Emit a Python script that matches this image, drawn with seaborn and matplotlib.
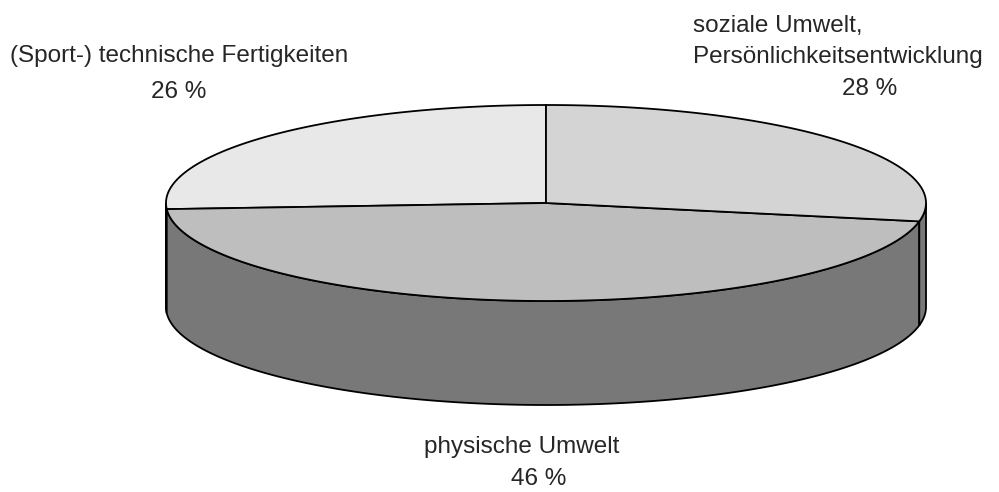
import numpy as np
import matplotlib
matplotlib.use("Agg")
import matplotlib.pyplot as plt
import seaborn as sns

# ------------ Data --------------
labels = ["(Sport-) technische Fertigkeiten", "physische Umwelt",
          "soziale Umwelt,\nPersönlichkeitsentwicklung"]
shares = [26, 46, 28]
top_colors = ["#e8e8e8", "#bebebe", "#d4d4d4"]
side_color = "#787878"

sns.set_theme(style="white")
plt.rcParams["font.family"] = ["Liberation Sans", "DejaVu Sans"]

# ------------ Pie geometry (pixel coords) --------------
cx, cy = 546, 203
rx, ry = 380, 98
depth = 104
start = 90.0

fig = plt.figure(figsize=(9.99, 4.92), dpi=100)
ax = fig.add_axes([0, 0, 1, 1])
ax.set_xlim(0, 999)
ax.set_ylim(492, 0)
ax.axis("off")


def rim(t):
    t = np.radians(t)
    return cx + rx * np.cos(t), cy - ry * np.sin(t)


fracs = np.array(shares) / sum(shares)
bounds = start + np.concatenate([[0], np.cumsum(fracs)]) * 360

# side walls (only the front half is visible)
for a, b in zip(bounds[:-1], bounds[1:]):
    for lo, hi in [(180, 360), (540, 720)]:
        s, e = max(a, lo), min(b, hi)
        if e <= s:
            continue
        t = np.linspace(s, e, 200)
        x, y = rim(t)
        xs = np.concatenate([x, x[::-1]])
        ys = np.concatenate([y, (y + depth)[::-1]])
        ax.fill(xs, ys, facecolor=side_color, edgecolor="black", lw=1.3, zorder=1)

# top wedges
for a, b, col in zip(bounds[:-1], bounds[1:], top_colors):
    t = np.linspace(a, b, 300)
    x, y = rim(t)
    ax.fill(np.concatenate([[cx], x]), np.concatenate([[cy], y]),
            facecolor=col, edgecolor="black", lw=1.3, zorder=2)

# ------------ Labels --------------
fs = 17.5
ax.text(10, 62, labels[0], fontsize=fs, ha="left", va="baseline")
ax.text(179, 98, f"{shares[0]} %", fontsize=fs, ha="center", va="baseline")

ax.text(522, 453, labels[1], fontsize=fs, ha="center", va="baseline")
ax.text(539, 485, f"{shares[1]} %", fontsize=fs, ha="center", va="baseline")

line1, line2 = labels[2].split("\n")
ax.text(693, 32, line1, fontsize=fs, ha="left", va="baseline")
ax.text(693, 63, line2, fontsize=fs, ha="left", va="baseline")
ax.text(870, 95, f"{shares[2]} %", fontsize=fs, ha="center", va="baseline")

fig.savefig("out.png", dpi=100)
